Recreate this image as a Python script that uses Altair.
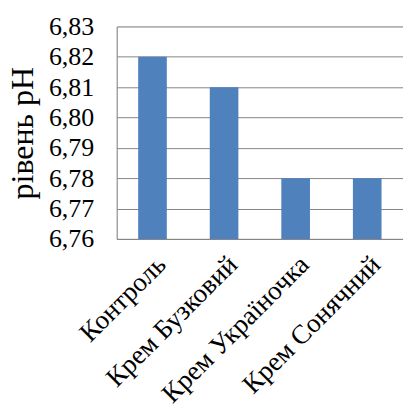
import altair as alt
import pandas as pd

categories = ["Контроль", "Крем Бузковий", "Крем Україночка", "Крем Сонячний"]
values = [6.82, 6.81, 6.78, 6.78]
y_ticks = [6.76, 6.77, 6.78, 6.79, 6.80, 6.81, 6.82, 6.83]

df = pd.DataFrame({"cat": categories, "val": values})

FONT = "Liberation Serif"

chart = alt.Chart(df).mark_bar(color="#4F81BD", clip=True).encode(
    x=alt.X("cat:N", sort=categories, title=None,
            scale=alt.Scale(paddingInner=0.6, paddingOuter=0.3),
            axis=alt.Axis(labelAngle=-45, labelFont=FONT, labelFontSize=27,
                          labelColor="black", ticks=False, domainColor="#868686",
                          labelPadding=12, labelLimit=400)),
    y=alt.Y("val:Q", title="рівень pH",
            scale=alt.Scale(domain=[6.76, 6.83], zero=False, nice=False),
            axis=alt.Axis(values=y_ticks, format=".2f",
                          labelExpr="replace(datum.label, '.', ',')",
                          labelFont=FONT, labelFontSize=26, labelColor="black",
                          labelPadding=23, ticks=False, domainColor="#868686",
                          gridColor="#868686", gridWidth=1,
                          titleFont=FONT, titleFontSize=32, titleFontWeight="normal",
                          titleColor="black", titleX=-94, titleBaseline="middle",
                          titleAngle=-90)),
).properties(
    width=287, height=213,
    autosize=alt.AutoSizeParams(type="none"),
    padding={"left": 117, "top": 26, "right": 0, "bottom": 171},
).configure_view(stroke=None).configure_axis(
    labelFont=FONT, titleFont=FONT
).configure(font=FONT)

chart.save("out.html", embed_options={"renderer": "svg", "actions": False})
